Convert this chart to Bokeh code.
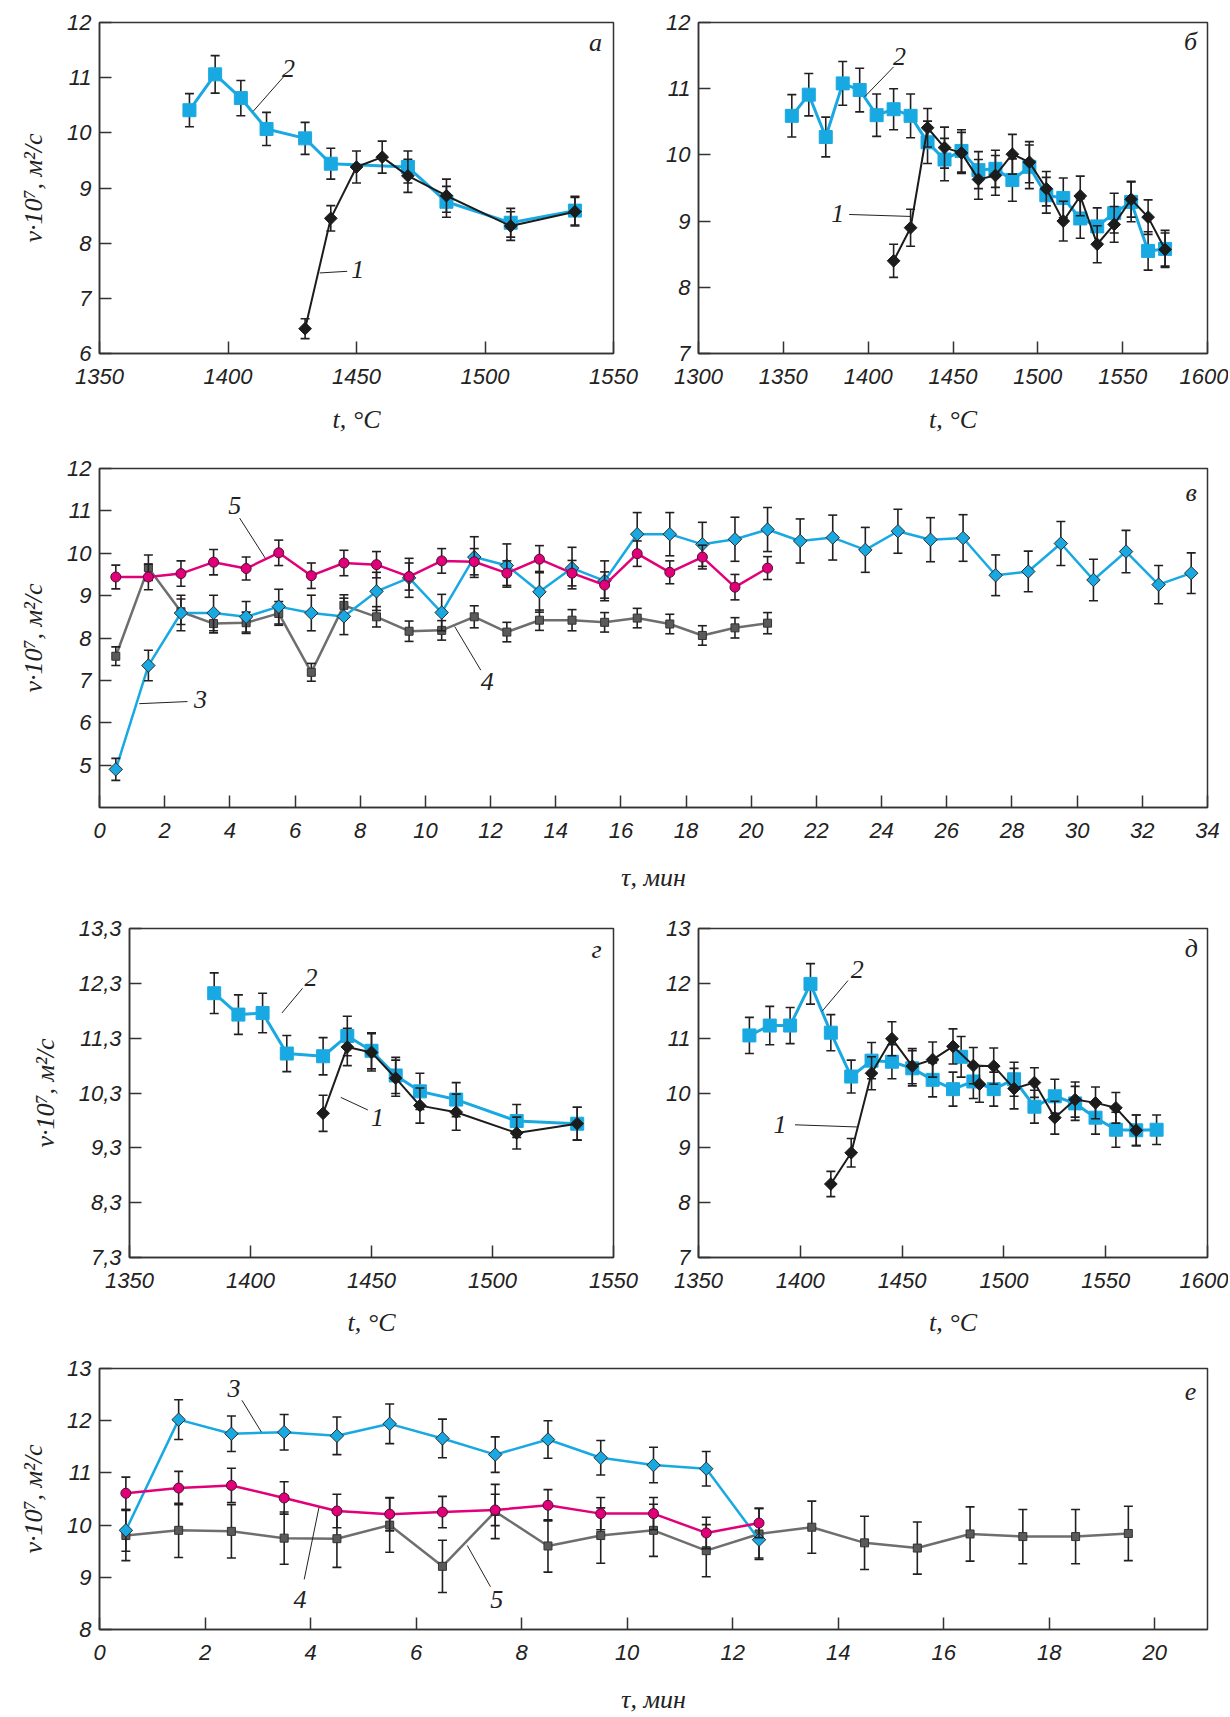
from bokeh.plotting import figure
from bokeh.models import Range1d, FixedTicker, Label, CustomJSTickFormatter
from bokeh.layouts import column, row
from bokeh.embed import file_html
from bokeh.resources import INLINE

# ---------------- data ----------------
# panel а  (t, °C)
a_t2 = [1385, 1395, 1405, 1415, 1430, 1440, 1470, 1485, 1510, 1535]
a_v2 = [10.41, 11.06, 10.63, 10.07, 9.90, 9.44, 9.38, 8.75, 8.37, 8.59]
a_e2 = [0.30, 0.34, 0.32, 0.30, 0.29, 0.28, 0.29, 0.28, 0.26, 0.26]
a_t1 = [1430, 1440, 1450, 1460, 1470, 1485, 1510, 1535]
a_v1 = [6.45, 8.45, 9.38, 9.56, 9.22, 8.86, 8.31, 8.57]
a_e1 = [0.18, 0.23, 0.29, 0.29, 0.30, 0.30, 0.26, 0.26]

# panel б
b_t2 = [1355, 1365, 1375, 1385, 1395, 1405, 1415, 1425, 1435, 1445, 1455, 1465,
        1475, 1485, 1495, 1505, 1515, 1525, 1535, 1545, 1555, 1565, 1575]
b_v2 = [10.59, 10.91, 10.27, 11.08, 10.98, 10.60, 10.69, 10.59, 10.19, 9.93, 10.06, 9.77,
        9.79, 9.62, 9.82, 9.39, 9.35, 9.04, 8.92, 9.12, 9.29, 8.55, 8.58]
b_e2 = [0.32, 0.32, 0.30, 0.33, 0.33, 0.32, 0.31, 0.33, 0.32, 0.32, 0.32, 0.28,
        0.28, 0.32, 0.33, 0.27, 0.30, 0.30, 0.28, 0.30, 0.30, 0.29, 0.28]
b_t1 = [1415, 1425, 1435, 1445, 1455, 1465, 1475, 1485, 1495, 1505, 1515, 1525,
        1535, 1545, 1555, 1565, 1575]
b_v1 = [8.40, 8.90, 10.41, 10.11, 10.03, 9.63, 9.69, 10.01, 9.89, 9.49, 9.00, 9.38,
        8.65, 8.95, 9.33, 9.06, 8.57]
b_e1 = [0.25, 0.28, 0.29, 0.31, 0.31, 0.30, 0.30, 0.30, 0.31, 0.26, 0.30, 0.30,
        0.28, 0.27, 0.27, 0.26, 0.25]

# panel в  (τ, мин)
c_t3 = [0.5, 1.5, 2.5, 3.5, 4.5, 5.5, 6.5, 7.5, 8.5, 9.5, 10.5, 11.5, 12.5, 13.5, 14.5, 15.5,
        16.5, 17.5, 18.5, 19.5, 20.5, 21.5, 22.5, 23.5, 24.5, 25.5, 26.5, 27.5, 28.5, 29.5,
        30.5, 31.5, 32.5, 33.5]
c_v3 = [4.90, 7.35, 8.59, 8.59, 8.50, 8.74, 8.59, 8.51, 9.10, 9.42, 8.60, 9.91, 9.71, 9.09,
        9.65, 9.35, 10.45, 10.45, 10.21, 10.33, 10.56, 10.29, 10.37, 10.08, 10.52, 10.32,
        10.36, 9.48, 9.57, 10.23, 9.37, 10.04, 9.26, 9.53]
c_e3 = [0.26, 0.36, 0.42, 0.42, 0.36, 0.41, 0.42, 0.43, 0.45, 0.46, 0.43, 0.48, 0.51, 0.48,
        0.49, 0.47, 0.51, 0.51, 0.52, 0.52, 0.52, 0.52, 0.53, 0.53, 0.52, 0.52, 0.55, 0.48,
        0.48, 0.52, 0.49, 0.50, 0.45, 0.48]
c_t45 = [0.5, 1.5, 2.5, 3.5, 4.5, 5.5, 6.5, 7.5, 8.5, 9.5, 10.5, 11.5, 12.5, 13.5, 14.5,
         15.5, 16.5, 17.5, 18.5, 19.5, 20.5]
c_v4 = [7.57, 9.66, 8.62, 8.34, 8.36, 8.58, 7.19, 8.77, 8.50, 8.16, 8.18, 8.50, 8.14, 8.42,
        8.42, 8.37, 8.47, 8.33, 8.06, 8.24, 8.35]
c_e4 = [0.22, 0.30, 0.30, 0.22, 0.25, 0.28, 0.21, 0.25, 0.24, 0.24, 0.23, 0.26, 0.23, 0.24,
        0.25, 0.23, 0.23, 0.23, 0.23, 0.24, 0.25]
c_v5 = [9.44, 9.44, 9.52, 9.79, 9.64, 10.01, 9.47, 9.77, 9.73, 9.45, 9.82, 9.80, 9.53, 9.86,
        9.53, 9.25, 9.99, 9.55, 9.91, 9.20, 9.65]
c_e5 = [0.28, 0.30, 0.30, 0.30, 0.27, 0.30, 0.30, 0.30, 0.31, 0.32, 0.29, 0.31, 0.29, 0.32,
        0.30, 0.31, 0.30, 0.27, 0.28, 0.30, 0.27]

# panel г
g_t2 = [1385, 1395, 1405, 1415, 1430, 1440, 1450, 1460, 1470, 1485, 1510, 1535]
g_v2 = [12.12, 11.73, 11.76, 11.02, 10.97, 11.34, 11.07, 10.62, 10.33, 10.18, 9.79, 9.74]
g_e2 = [0.37, 0.36, 0.36, 0.33, 0.34, 0.36, 0.33, 0.33, 0.33, 0.31, 0.30, 0.30]
g_t1 = [1430, 1440, 1450, 1460, 1470, 1485, 1510, 1535]
g_v1 = [9.93, 11.14, 11.04, 10.57, 10.07, 9.95, 9.57, 9.74]
g_e1 = [0.33, 0.34, 0.34, 0.33, 0.32, 0.33, 0.29, 0.30]

# panel д
d_t2 = [1375, 1385, 1395, 1405, 1415, 1425, 1435, 1445, 1455, 1465, 1475, 1485, 1495,
        1505, 1515, 1525, 1535, 1545, 1555, 1565, 1575]
d_v2 = [11.05, 11.23, 11.23, 11.99, 11.10, 10.30, 10.59, 10.57, 10.45, 10.24, 10.07, 10.21,
        10.07, 10.25, 9.75, 9.94, 9.81, 9.55, 9.33, 9.32, 9.33]
d_e2 = [0.33, 0.35, 0.33, 0.37, 0.33, 0.30, 0.33, 0.31, 0.32, 0.31, 0.31, 0.31, 0.31,
        0.31, 0.30, 0.31, 0.31, 0.30, 0.32, 0.28, 0.27]
d_t2x = [1479]
d_v2x = [10.66]
d_e2x = [0.37]
d_t1 = [1415, 1425, 1435, 1445, 1455, 1465, 1475, 1485, 1495, 1505, 1515, 1525, 1535,
        1545, 1555, 1565]
d_v1 = [8.34, 8.91, 10.36, 10.99, 10.49, 10.61, 10.85, 10.50, 10.49, 10.08, 10.19, 9.55,
        9.88, 9.82, 9.73, 9.32]
d_e1 = [0.23, 0.26, 0.30, 0.31, 0.32, 0.32, 0.32, 0.33, 0.33, 0.37, 0.27, 0.30, 0.32,
        0.29, 0.28, 0.28]
d_t1x = [1488]
d_v1x = [10.16]
d_e1x = [0.33]

# panel е
e_t34 = [0.5, 1.5, 2.5, 3.5, 4.5, 5.5, 6.5, 7.5, 8.5, 9.5, 10.5, 11.5, 12.5]
e_v3 = [9.90, 12.02, 11.75, 11.78, 11.71, 11.94, 11.66, 11.35, 11.64, 11.29, 11.15, 11.08, 9.72]
e_e3 = [0.40, 0.38, 0.34, 0.34, 0.36, 0.38, 0.37, 0.34, 0.36, 0.33, 0.34, 0.33, 0.35]
e_v4 = [10.61, 10.71, 10.76, 10.52, 10.27, 10.21, 10.25, 10.29, 10.38, 10.22, 10.22, 9.85, 10.04]
e_e4 = [0.31, 0.32, 0.33, 0.31, 0.32, 0.32, 0.30, 0.30, 0.30, 0.31, 0.31, 0.30, 0.28]
e_t5 = [0.5, 1.5, 2.5, 3.5, 4.5, 5.5, 6.5, 7.5, 8.5, 9.5, 10.5, 11.5, 12.5, 13.5, 14.5,
        15.5, 16.5, 17.5, 18.5, 19.5]
e_v5 = [9.80, 9.90, 9.88, 9.75, 9.74, 10.00, 9.21, 10.26, 9.60, 9.80, 9.90, 9.51, 9.83,
        9.96, 9.66, 9.56, 9.83, 9.78, 9.78, 9.84]
e_e5 = [0.48, 0.52, 0.51, 0.50, 0.55, 0.52, 0.50, 0.52, 0.50, 0.53, 0.50, 0.50, 0.49,
        0.50, 0.51, 0.50, 0.52, 0.52, 0.52, 0.52]

# tick labels
x_ticks_a = [1350, 1400, 1450, 1500, 1550]
x_ticks_b = [1300, 1350, 1400, 1450, 1500, 1550, 1600]
x_ticks_d = [1350, 1400, 1450, 1500, 1550, 1600]
x_ticks_c = [0, 2, 4, 6, 8, 10, 12, 14, 16, 18, 20, 22, 24, 26, 28, 30, 32, 34]
x_ticks_e = [0, 2, 4, 6, 8, 10, 12, 14, 16, 18, 20]
y_ticks_a = [6, 7, 8, 9, 10, 11, 12]
y_ticks_b = [7, 8, 9, 10, 11, 12]
y_ticks_c = [5, 6, 7, 8, 9, 10, 11, 12]
y_ticks_g = [7.3, 8.3, 9.3, 10.3, 11.3, 12.3, 13.3]
y_ticks_d = [7, 8, 9, 10, 11, 12, 13]
y_ticks_e = [8, 9, 10, 11, 12, 13]

# ---------------- style ----------------
BLUE = "#19a9e2"
BLACK = "#1c1c1c"
MAG = "#e2007a"
GRAYL = "#6e6e6e"
GRAYF = "#5a5a5a"
EB = "#231f20"
FRAME = "#333333"
TICKFONT = "Liberation Sans"
SERIF = "Liberation Serif"
YLABEL = "v·10⁷, м²/с"
ROT = 0.7853981634


def make_fig(w, h, bl, br, bt, bb, xr, yr, xt, yt, xlabel, ylabel, als, comma=False):
    p = figure(width=w, height=h, x_range=Range1d(*xr), y_range=Range1d(*yr),
               toolbar_location=None, output_backend="svg",
               min_border_left=bl, min_border_right=br, min_border_top=bt, min_border_bottom=bb)
    p.grid.visible = False
    p.outline_line_color = FRAME
    p.outline_line_width = 1.5
    p.background_fill_color = "white"
    p.xaxis.ticker = FixedTicker(ticks=xt)
    p.yaxis.ticker = FixedTicker(ticks=yt)
    if comma:
        p.yaxis.formatter = CustomJSTickFormatter(code="return tick.toFixed(1).replace('.', ',');")
    for ax in (p.xaxis[0], p.yaxis[0]):
        ax.major_tick_in = 12
        ax.major_tick_out = 0
        ax.minor_tick_line_color = None
        ax.axis_line_color = FRAME
        ax.axis_line_width = 1.5
        ax.major_tick_line_color = FRAME
        ax.major_tick_line_width = 1.5
        ax.major_label_text_font = TICKFONT
        ax.major_label_text_font_style = "italic"
        ax.major_label_text_font_size = "22px"
        ax.major_label_text_color = "#222222"
        ax.axis_label_text_font = SERIF
        ax.axis_label_text_font_style = "italic"
        ax.axis_label_text_font_size = "26px"
        ax.axis_label_text_color = "#222222"
    p.xaxis.major_label_standoff = 15
    p.xaxis.axis_label_standoff = als
    p.xaxis.axis_label = xlabel
    p.yaxis.major_label_standoff = 8
    p.yaxis.axis_label_standoff = 16
    if ylabel:
        p.yaxis.axis_label = ylabel
    return p


def series(p, x, y, e, color, marker, size, lw, fill=None, outline=None, line=True):
    if line:
        p.line(x, y, line_color=color, line_width=lw)
    lo = [a - b for a, b in zip(y, e)]
    hi = [a + b for a, b in zip(y, e)]
    p.segment(x0=x, y0=lo, x1=x, y1=hi, line_color=EB, line_width=1.6)
    p.scatter(x + x, lo + hi, marker="dash", size=9, line_color=EB, line_width=1.6)
    ang = ROT if marker == "diamond" else 0
    mk = "square" if marker == "diamond" else marker
    p.scatter(x, y, marker=mk, size=size, angle=ang, fill_color=fill or color,
              line_color=outline or (fill or color), line_width=1)


def tag(p, x, y, text, size="26px"):
    p.add_layout(Label(x=x, y=y, text=text, text_font=SERIF, text_font_style="italic",
                       text_font_size=size, text_color="#222222",
                       text_align="center", text_baseline="middle"))


def leader(p, x0, y0, x1, y1):
    p.segment(x0=[x0], y0=[y0], x1=[x1], y1=[y1], line_color="#222222", line_width=1)


TC = "t, °C"
TM = "τ, мин"

# ---------- panel а ----------
pa = make_fig(653, 448, 99, 40, 22, 95, (1350, 1550), (6, 12), x_ticks_a, y_ticks_a, TC, YLABEL, 18)
series(pa, a_t2, a_v2, a_e2, BLUE, "square", 13, 3)
series(pa, a_t1, a_v1, a_e1, BLACK, "diamond", 9, 2)
leader(pa, 1421.7, 11.02, 1409.8, 10.39)
tag(pa, 1423.5, 11.17, "2")
leader(pa, 1446.4, 7.49, 1435.7, 7.46)
tag(pa, 1450.5, 7.52, "1")
tag(pa, 1543, 11.63, "а")

# ---------- panel б ----------
pb = make_fig(575, 448, 45, 21, 22, 95, (1300, 1600), (7, 12), x_ticks_b, y_ticks_b, TC, None, 18)
series(pb, b_t2, b_v2, b_e2, BLUE, "square", 13, 3)
series(pb, b_t1, b_v1, b_e1, BLACK, "diamond", 9, 2)
leader(pb, 1415, 11.33, 1398, 10.88)
tag(pb, 1418.5, 11.48, "2")
leader(pb, 1388.8, 9.10, 1425.3, 9.07)
tag(pb, 1382, 9.11, "1")
tag(pb, 1590, 11.71, "б")

# ---------- panel в ----------
pc = make_fig(1228, 452, 99, 21, 20, 93, (0, 34), (4, 12), x_ticks_c, y_ticks_c, TM, YLABEL, 22)
series(pc, c_t45, c_v4, c_e4, GRAYL, "square", 8, 2.5, fill=GRAYF, outline="#333333")
series(pc, c_t3, c_v3, c_e3, BLUE, "diamond", 9.5, 2.5, outline="#2b2b2b")
series(pc, c_t45, c_v5, c_e5, MAG, "circle", 10, 2.5, outline="#4a1030")
leader(pc, 4.3, 10.83, 5.09, 9.88)
tag(pc, 4.15, 11.12, "5")
leader(pc, 2.7, 6.50, 1.22, 6.45)
tag(pc, 3.1, 6.55, "3")
leader(pc, 11.7, 7.24, 10.9, 8.27)
tag(pc, 11.9, 6.98, "4")
tag(pc, 33.5, 11.43, "в")

# ---------- panel г ----------
pg = make_fig(653, 440, 129, 40, 28, 83, (1350, 1550), (7.3, 13.3), x_ticks_a, y_ticks_g, TC, YLABEL, 17,
              comma=True)
series(pg, g_t2, g_v2, g_e2, BLUE, "square", 13, 3)
series(pg, g_t1, g_v1, g_e1, BLACK, "diamond", 9, 2)
leader(pg, 1421.5, 12.21, 1413.0, 11.76)
tag(pg, 1425, 12.40, "2")
leader(pg, 1448.5, 9.99, 1437.3, 10.22)
tag(pg, 1452.5, 9.86, "1")
tag(pg, 1543, 12.91, "г")

# ---------- panel д ----------
pd_ = make_fig(575, 440, 45, 21, 28, 83, (1350, 1600), (7, 13), x_ticks_d, y_ticks_d, TC, None, 17)
series(pd_, d_t2, d_v2, d_e2, BLUE, "square", 13, 3)
series(pd_, d_t2x, d_v2x, d_e2x, BLUE, "square", 13, 3, line=False)
series(pd_, d_t1, d_v1, d_e1, BLACK, "diamond", 9, 2)
series(pd_, d_t1x, d_v1x, d_e1x, BLACK, "diamond", 9, 2, line=False)
leader(pd_, 1423.4, 12.05, 1410.7, 11.49)
tag(pd_, 1428, 12.25, "2")
leader(pd_, 1397.4, 9.42, 1428.2, 9.38)
tag(pd_, 1390, 9.43, "1")
tag(pd_, 1592, 12.64, "д")

# ---------- panel е ----------
pe = make_fig(1228, 377, 99, 21, 28, 88, (0, 21), (8, 13), x_ticks_e, y_ticks_e, TM, YLABEL, 22)
series(pe, e_t5, e_v5, e_e5, GRAYL, "square", 8, 2.5, fill=GRAYF, outline="#333333")
series(pe, e_t34, e_v3, e_e3, BLUE, "diamond", 9.5, 2.5, outline="#2b2b2b")
series(pe, e_t34, e_v4, e_e4, MAG, "circle", 10, 2.5, outline="#4a1030")
leader(pe, 2.7, 12.39, 3.07, 11.78)
tag(pe, 2.55, 12.62, "3")
leader(pe, 3.88, 8.96, 4.16, 10.34)
tag(pe, 3.8, 8.58, "4")
leader(pe, 7.41, 8.82, 6.97, 9.61)
tag(pe, 7.53, 8.58, "5")
tag(pe, 20.68, 12.56, "е")

layout = column(row(pa, pb), pc, row(pg, pd_), pe)
open("out.html", "w").write(file_html(layout, INLINE))
